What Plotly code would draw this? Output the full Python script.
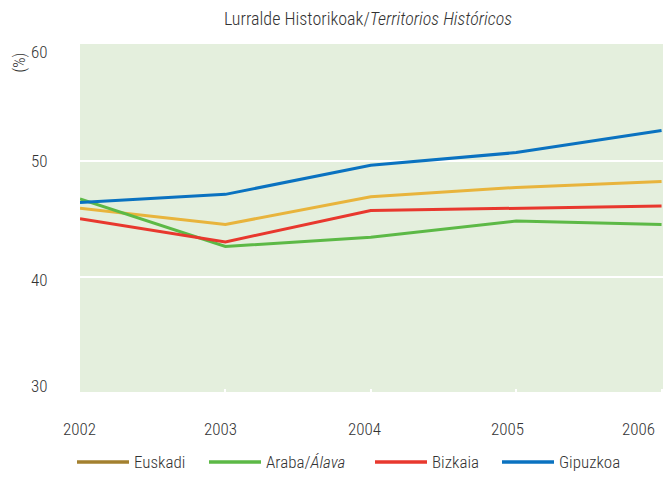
import plotly.graph_objects as go

years = [2002, 2003, 2004, 2005, 2006]
year_labels = ["2002", "2003", "2004", "2005", "2006"]
euskadi = [45.9, 44.5, 46.9, 47.7, 48.2]
araba = [46.7, 42.6, 43.4, 44.8, 44.5]
bizkaia = [45.0, 43.0, 45.7, 45.9, 46.1]
gipuzkoa = [46.4, 47.1, 49.6, 50.7, 52.6]
y_ticks = [30, 40, 50, 60]
y_labels = ["30", "40", "50", "60"]

series_names = ["Euskadi", "Araba/<i>Álava</i>", "Bizkaia", "Gipuzkoa"]
series_values = [euskadi, araba, bizkaia, gipuzkoa]
line_colors = ["#e8b43c", "#5cb946", "#e8382e", "#0a72c0"]
legend_colors = ["#a3802f", "#5cb946", "#e8382e", "#0a72c0"]

FONT = "Roboto Condensed, Liberation Sans Narrow, DejaVu Sans Condensed, sans-serif"
TXT = "#333333"
WT = 300

# page geometry (body margin removed via post_script)
PX0, PX1 = 80, 663     # plot left/right on page
PY0, PY1 = 44, 394     # plot top/bottom on page
W, H = 663, 497
YR = [29.89, 60.06]


def px(x):
    return (x - PX0) / (PX1 - PX0)


def py(y):
    return (PY1 - y) / (PY1 - PY0)


def f(size):
    return dict(family=FONT, size=size, color=TXT, weight=WT)


fig = go.Figure()
for name, vals, col in zip(series_names, series_values, line_colors):
    fig.add_trace(go.Scatter(x=years, y=vals, mode="lines", name=name,
                             line=dict(color=col, width=3), showlegend=False,
                             hoverinfo="skip"))

# x tick labels
x_shifts = [-1, -5, -6, -9, -23]
for yr, lab, s in zip(years, year_labels, x_shifts):
    fig.add_annotation(x=yr, xref="x", y=py(429), yref="paper", text=lab,
                       showarrow=False, xshift=s, yanchor="middle", font=f(17))

# y tick labels
y_shifts = [7, -3, 0, -7]
for v, lab, s in zip(y_ticks, y_labels, y_shifts):
    fig.add_annotation(x=px(50), xref="paper", xanchor="right", y=v, yref="y",
                       text=lab, showarrow=False, yshift=s, yanchor="middle",
                       font=f(17))

fig.add_annotation(x=px(19), xref="paper", y=py(62.5), yref="paper", text="(%)",
                   textangle=-90, showarrow=False, xanchor="center", yanchor="middle",
                   font=f(16))

# legend (drawn manually to match long swatches)
sw_x0 = [77, 209, 375, 502]
for name, col, x0 in zip(series_names, legend_colors, sw_x0):
    fig.add_shape(type="line", xref="paper", yref="paper",
                  x0=px(x0), x1=px(x0 + 52), y0=py(462), y1=py(462),
                  line=dict(color=col, width=3.5))
    fig.add_annotation(x=px(x0 + 55), xref="paper", xanchor="left",
                       y=py(462), yref="paper", yanchor="middle", text=name,
                       showarrow=False, font=f(17))

fig.update_layout(
    width=W, height=H,
    margin=dict(l=PX0, r=W - PX1, t=PY0, b=H - PY1, pad=0),
    paper_bgcolor="white",
    plot_bgcolor="#e4efdd",
    font=f(17),
    title=dict(text="Lurralde Historikoak/<i>Territorios Históricos</i>",
               x=px(368), xref="paper", xanchor="center",
               y=1 - 18.3 / H, yanchor="middle", font=f(18)),
    xaxis=dict(range=[2002, 2006.01], tickvals=years, showticklabels=False,
               ticks="inside", ticklen=5, tickwidth=2, tickcolor="white",
               showgrid=False, zeroline=False, showline=False),
    yaxis=dict(range=YR, tickvals=y_ticks, showticklabels=False, showgrid=True,
               gridcolor="white", gridwidth=2, zeroline=False, showline=False),
    showlegend=False,
    hovermode=False,
)

fig.write_html("out.html", config={"displayModeBar": False},
               post_script="document.body.style.margin='0';"
                           "document.body.style.overflow='hidden';")
